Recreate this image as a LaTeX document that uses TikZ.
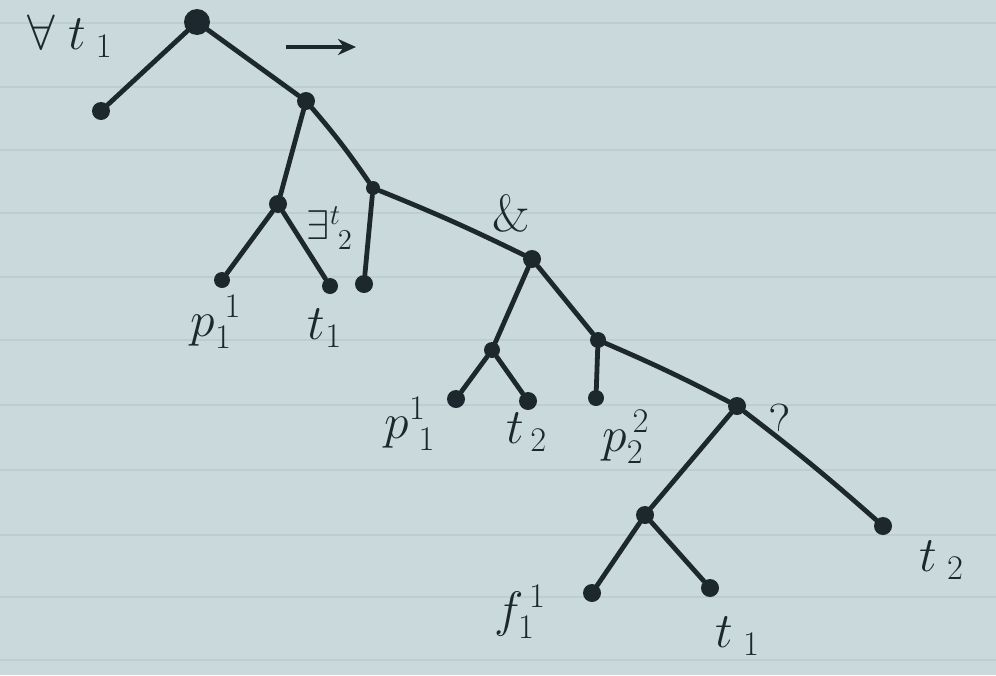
\documentclass[tikz,border=0pt]{standalone}
\usetikzlibrary{arrows.meta}
\definecolor{paper}{RGB}{202,217,220}
\definecolor{rule}{RGB}{190,205,211}
\definecolor{ink}{RGB}{28,40,46}
\begin{document}
\begin{tikzpicture}[x=0.5pt,y=-0.5pt,
  dot/.style={circle,fill=ink,inner sep=0pt,minimum size=9pt},
  edge/.style={draw=ink,line width=2.4pt,line cap=round},
  lbl/.style={text=ink,inner sep=0pt,font=\fontsize{26}{28}\selectfont},
  small/.style={text=ink,inner sep=0pt,font=\fontsize{22}{24}\selectfont}]
\fill[paper] (0,0) rectangle (996,675);
\useasboundingbox (0,0) rectangle (996,675);
\foreach \y in {23,87,150,213,277,340,405,470,535,597,660}
  \draw[rule,line width=1.2pt] (0,\y) -- (996,\y);
% nodes
\node[dot,minimum width=13pt,minimum height=10pt] (r) at (197,22) {};
\node[dot] (a) at (101,111) {};
\node[dot] (n1) at (306,101) {};
\node[dot] (n2) at (278,204) {};
\node[dot,minimum size=8pt] (l1) at (222,280) {};
\node[dot,minimum size=8pt] (l2) at (330,286) {};
\node[dot,minimum size=7pt] (n3) at (373,188) {};
\node[dot] (l3) at (364,284) {};
\node[dot] (n4) at (532,259) {};
\node[dot,minimum size=8pt] (n5) at (492,350) {};
\node[dot] (l4) at (456,399) {};
\node[dot] (l5) at (528,401) {};
\node[dot,minimum size=8pt] (n6) at (598,340) {};
\node[dot,minimum size=8pt] (l6) at (596,398) {};
\node[dot] (n7) at (737,406) {};
\node[dot] (n8) at (645,515) {};
\node[dot] (l7) at (592,593) {};
\node[dot] (l8) at (710,588) {};
\node[dot] (l9) at (883,526) {};
% edges
\draw[edge] (r) -- (a);
\draw[edge] (r) -- (n1);
\draw[edge] (n1) -- (n2);
\draw[edge] (n1) to[bend left=3] (n3);
\draw[edge] (n2) -- (l1);
\draw[edge] (n2) -- (l2);
\draw[edge] (n3) -- (l3);
\draw[edge] (n3) to[bend left=2] (n4);
\draw[edge] (n4) -- (n5);
\draw[edge] (n4) -- (n6);
\draw[edge] (n5) -- (l4);
\draw[edge] (n5) -- (l5);
\draw[edge] (n6) -- (l6);
\draw[edge] (n6) to[bend left=2] (n7);
\draw[edge] (n7) -- (n8);
\draw[edge] (n7) to[bend left=2] (l9);
\draw[edge] (n8) -- (l7);
\draw[edge] (n8) -- (l8);
% arrow
\coordinate (as) at (286,47);
\coordinate (ae) at (356,47);
\draw[ink,line width=2.4pt,-{Stealth[length=9pt,width=8pt]}] (as) -- (ae);
% labels
\node[lbl] (q) at (70,36) {$\forall\; t_{\;1}$};
\node[lbl] (lp1) at (216,322) {$p_1^{\;1}$};
\node[lbl] (lt1) at (325,328) {$t_1$};
\node[small] (lex) at (330,228) {$\exists^{t}_{\;2}$};
\node[lbl] (amp) at (511,213) {\&};
\node[lbl] (lp2) at (410,424) {$p^{1}_{\;1}$};
\node[lbl] (lt2) at (527,432) {$t_{\,2}$};
\node[lbl] (lp3) at (626,437) {$p_2^{\,2}$};
\node[lbl] (qm) at (780,422) {?};
\node[lbl] (lt3) at (942,560) {$t_{\;2}$};
\node[lbl] (lf) at (520,612) {$f_1^{\,1}$};
\node[lbl] (lt4) at (738,636) {$t_{\;1}$};
\end{tikzpicture}
\end{document}
